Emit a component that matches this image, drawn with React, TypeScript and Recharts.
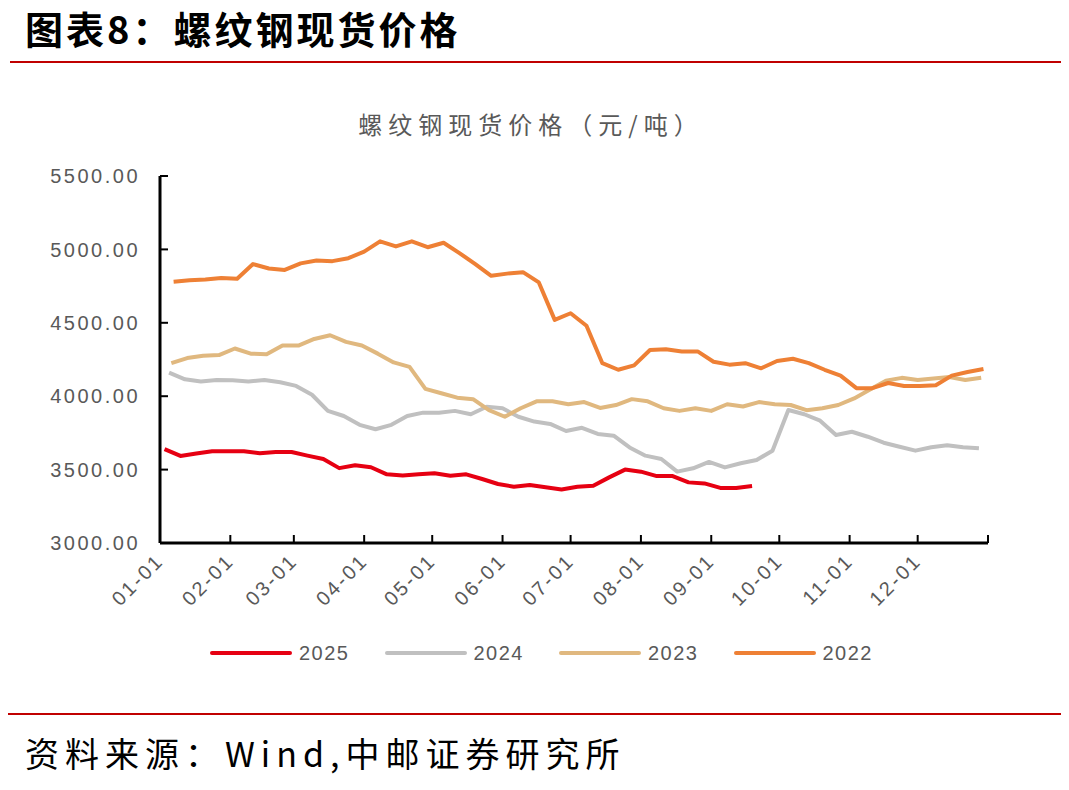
import React from 'react';
import { LineChart, Line, XAxis, YAxis } from 'recharts';

// Month starts on a 365-day axis, with the year end as the last tick
const monthTicks = [0, 31, 59, 90, 120, 151, 181, 212, 243, 273, 304, 334, 365];
const monthLabels = ['01-01', '02-01', '03-01', '04-01', '05-01', '06-01', '07-01', '08-01', '09-01', '10-01', '11-01', '12-01', ''];
const priceTicks = [3000, 3500, 4000, 4500, 5000, 5500];

// Weekly (Friday) quotes, day of year
const days2025 = [2, 9, 16, 23, 30, 37, 44, 51, 58, 65, 72, 79, 86, 93, 100, 107, 114, 121, 128, 135, 142, 149, 156, 163, 170, 177, 184, 191, 198, 205, 212, 219, 226, 233, 240, 247, 254, 261];
const days2024 = [4, 11, 18, 25, 32, 39, 46, 53, 60, 67, 74, 81, 88, 95, 102, 109, 116, 123, 130, 137, 144, 151, 158, 165, 172, 179, 186, 193, 200, 207, 214, 221, 228, 235, 242, 249, 256, 263, 270, 277, 284, 291, 298, 305, 312, 319, 326, 333, 340, 347, 354, 361];
const days2023 = [5, 12, 19, 26, 33, 40, 47, 54, 61, 68, 75, 82, 89, 96, 103, 110, 117, 124, 131, 138, 145, 152, 159, 166, 173, 180, 187, 194, 201, 208, 215, 222, 229, 236, 243, 250, 257, 264, 271, 278, 285, 292, 299, 306, 313, 320, 327, 334, 341, 348, 355, 362];
const days2022 = [6, 13, 20, 27, 34, 41, 48, 55, 62, 69, 76, 83, 90, 97, 104, 111, 118, 125, 132, 139, 146, 153, 160, 167, 174, 181, 188, 195, 202, 209, 216, 223, 230, 237, 244, 251, 258, 265, 272, 279, 286, 293, 300, 307, 314, 321, 328, 335, 342, 349, 356, 363];

const price2025 = [3640, 3593, 3610, 3625, 3625, 3625, 3612, 3620, 3620, 3595, 3572, 3510, 3530, 3516, 3468, 3460, 3468, 3475, 3458, 3468, 3436, 3402, 3383, 3395, 3380, 3365, 3383, 3390, 3447, 3500, 3486, 3456, 3456, 3413, 3406, 3375, 3375, 3388];
const price2024 = [4160, 4115, 4100, 4110, 4108, 4100, 4110, 4095, 4070, 4010, 3900, 3865, 3805, 3775, 3805, 3865, 3888, 3888, 3900, 3877, 3928, 3918, 3860, 3827, 3811, 3763, 3785, 3743, 3731, 3651, 3595, 3572, 3486, 3509, 3552, 3515, 3543, 3565, 3629, 3906, 3877, 3833, 3736, 3758, 3724, 3683, 3656, 3629, 3652, 3666, 3652, 3645];
const price2023 = [4225, 4260, 4275, 4280, 4325, 4290, 4285, 4345, 4345, 4390, 4415, 4370, 4345, 4290, 4230, 4200, 4050, 4020, 3990, 3980, 3905, 3860, 3918, 3965, 3965, 3945, 3960, 3920, 3940, 3980, 3965, 3918, 3900, 3918, 3900, 3945, 3930, 3960, 3945, 3940, 3905, 3918, 3940, 3985, 4045, 4105, 4125, 4110, 4120, 4130, 4110, 4125];
const price2022 = [4780, 4790, 4795, 4805, 4800, 4900, 4870, 4860, 4905, 4925, 4920, 4940, 4985, 5055, 5020, 5055, 5015, 5045, 4975, 4900, 4820, 4835, 4845, 4775, 4520, 4565, 4480, 4225, 4180, 4210, 4315, 4320, 4305, 4305, 4235, 4215, 4225, 4190, 4240, 4255, 4225, 4180, 4140, 4055, 4055, 4090, 4070, 4070, 4075, 4140, 4165, 4185];

const series = [
  { key: 'y2025', name: '2025', color: '#E60012', days: days2025, values: price2025 },
  { key: 'y2024', name: '2024', color: '#C0C0C0', days: days2024, values: price2024 },
  { key: 'y2023', name: '2023', color: '#E0B87F', days: days2023, values: price2023 },
  { key: 'y2022', name: '2022', color: '#EE8035', days: days2022, values: price2022 },
];

// one row per quote date, each year fills its own column
const rows: any[] = [];
series.forEach((s) => {
  s.days.forEach((d, i) => rows.push({ day: d, [s.key]: s.values[i] }));
});
rows.sort((a, b) => a.day - b.day);

const tickFont = '"Liberation Sans", Arial, sans-serif';
const cjkFont = '"Noto Sans CJK SC", sans-serif';

const MonthTick = ({ x, y, payload }: any) => {
  const label = monthLabels[monthTicks.indexOf(payload.value)] ?? '';
  return (
    <g>
      <line x1={x} x2={x} y1={y} y2={y - 8} stroke="#000" strokeWidth={2} />
      <text
        transform={`translate(${x + 5}, ${y + 19}) rotate(-45)`}
        textAnchor="end"
        fontSize={20}
        letterSpacing={2.5}
        fill="#595959"
        fontFamily={tickFont}
      >
        {label}
      </text>
    </g>
  );
};

const PriceTick = ({ x, y, payload }: any) => (
  <g>
    <line x1={x} x2={x + 8} y1={y} y2={y} stroke="#000" strokeWidth={2} />
    <text
      x={x - 20}
      y={y}
      dy="0.36em"
      textAnchor="end"
      fontSize={20}
      letterSpacing={2.5}
      fill="#595959"
      fontFamily={tickFont}
    >
      {payload.value.toFixed(2)}
    </text>
  </g>
);

export default function App() {
  return (
    <div style={{ position: 'relative', width: 1069, height: 790, margin: -8, background: '#fff', overflow: 'hidden' }}>
      <div style={{ position: 'absolute', left: 25, top: 0, fontFamily: cjkFont, fontWeight: 700, fontSize: 38, letterSpacing: 3, lineHeight: 'normal', color: '#000' }}>
        图表8：螺纹钢现货价格
      </div>
      <div style={{ position: 'absolute', left: 10, right: 0, top: 61, height: 2, background: '#C00000' }} />

      <div style={{ position: 'absolute', left: 0, width: 1062, top: 106, textAlign: 'center', fontFamily: cjkFont, fontSize: 24, letterSpacing: 6, color: '#595959', lineHeight: '36px' }}>
        螺纹钢现货价格（元/吨）
      </div>

      <div style={{ position: 'absolute', left: 0, top: 0 }}>
        <LineChart width={1069} height={790} data={rows} margin={{ top: 176, right: 81, bottom: 0, left: 0 }}>
          <XAxis
            type="number"
            dataKey="day"
            domain={[0, 365]}
            ticks={monthTicks}
            interval={0}
            height={247}
            tickSize={0}
            tickMargin={0}
            tickLine={false}
            axisLine={{ stroke: '#000', strokeWidth: 3 }}
            tick={<MonthTick />}
          />
          <YAxis
            type="number"
            domain={[3000, 5500]}
            ticks={priceTicks}
            interval={0}
            width={160}
            tickSize={0}
            tickMargin={0}
            tickLine={false}
            axisLine={{ stroke: '#000', strokeWidth: 3 }}
            tick={<PriceTick />}
          />
          {series.map((s) => (
            <Line
              key={s.key}
              type="linear"
              dataKey={s.key}
              name={s.name}
              stroke={s.color}
              strokeWidth={4}
              strokeLinejoin="round"
              dot={false}
              activeDot={false}
              connectNulls
              isAnimationActive={false}
            />
          ))}
        </LineChart>
      </div>

      {/* legend row */}
      <div style={{ position: 'absolute', left: 210, top: 640, display: 'flex', alignItems: 'center', height: 26 }}>
        {series.map((s) => (
          <div key={s.key} style={{ display: 'flex', alignItems: 'center', marginRight: 35 }}>
            <div style={{ width: 82, height: 4, borderRadius: 2, background: s.color }} />
            <span style={{ marginLeft: 7, fontFamily: tickFont, fontSize: 20, letterSpacing: 1.5, color: '#595959' }}>{s.name}</span>
          </div>
        ))}
      </div>

      <div style={{ position: 'absolute', left: 8, right: 0, top: 713, height: 2, background: '#C00000' }} />
      <div style={{ position: 'absolute', left: 25, top: 730, fontFamily: cjkFont, fontSize: 34, letterSpacing: 6, lineHeight: '46px', color: '#000' }}>
        资料来源：Wind,中邮证券研究所
      </div>
    </div>
  );
}
